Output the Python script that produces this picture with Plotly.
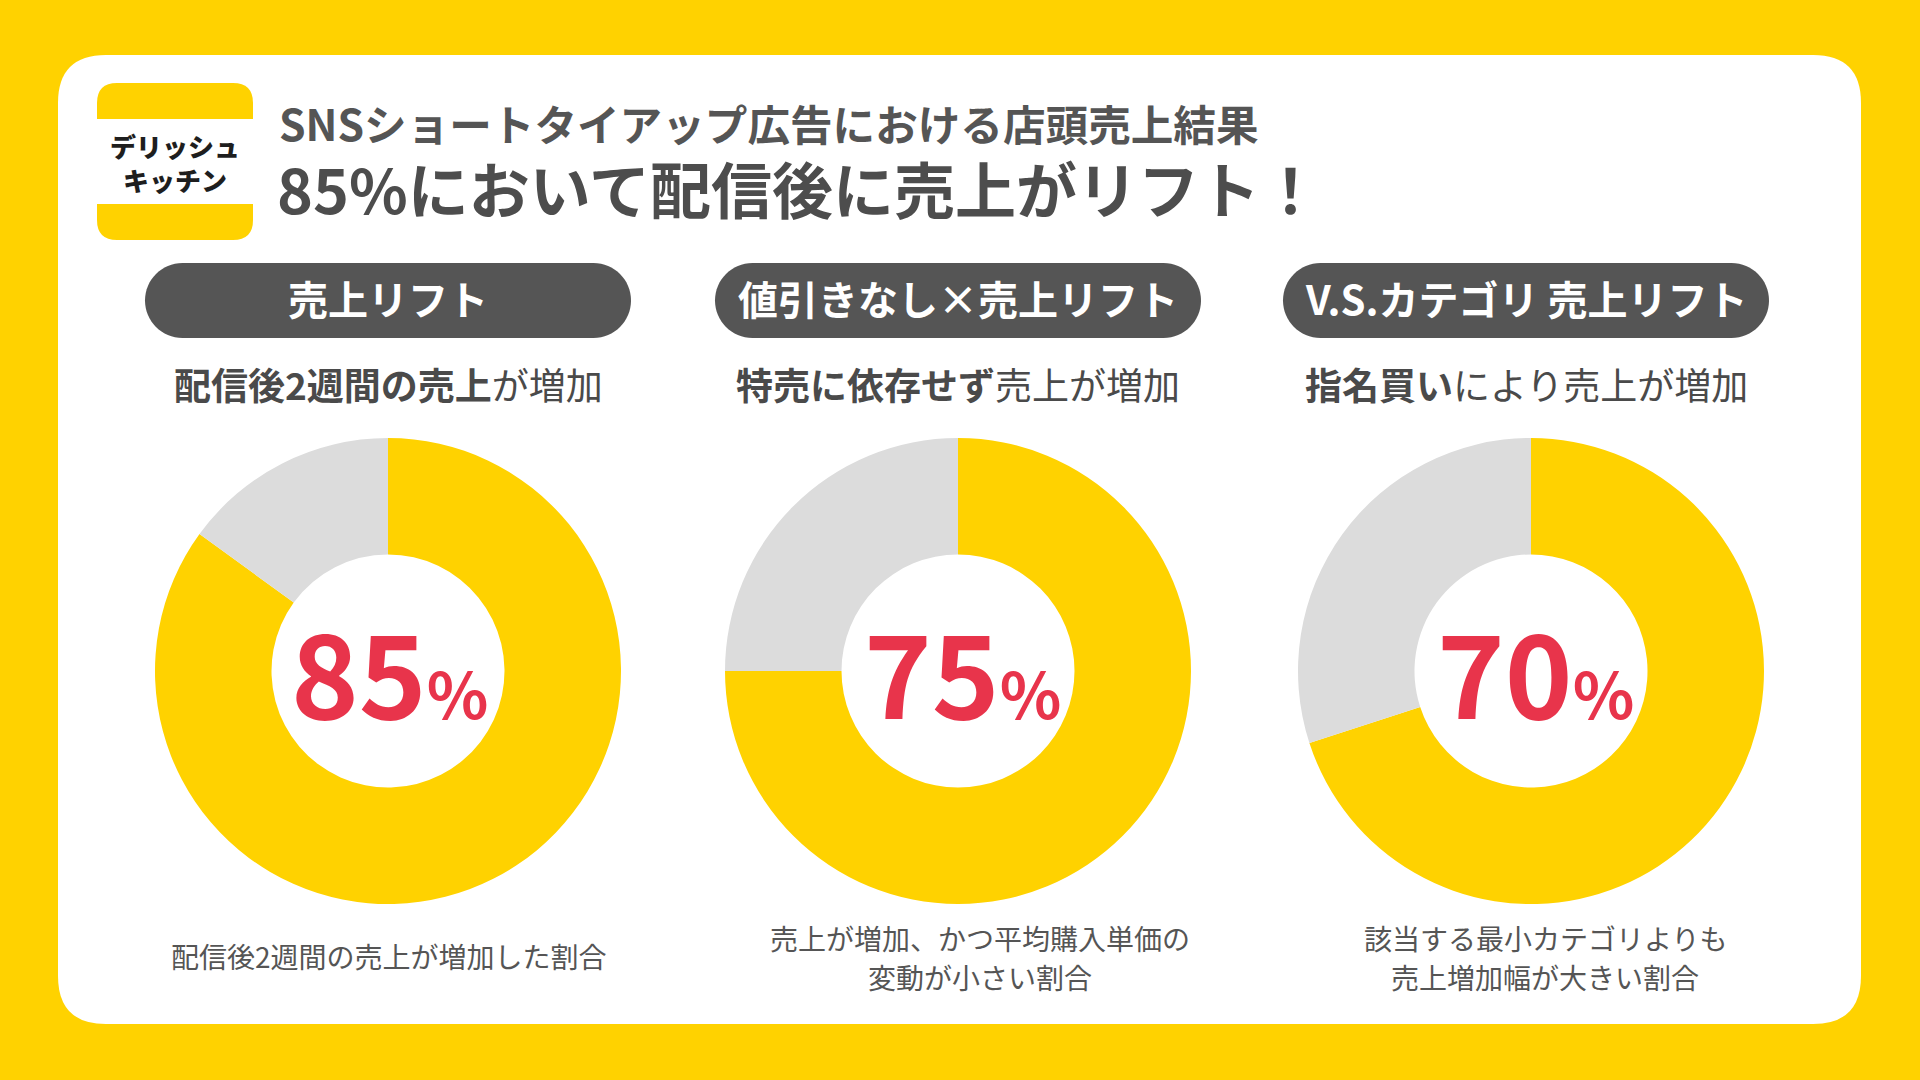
import plotly.graph_objects as go

panel_titles = ["売上リフト", "値引きなし×売上リフト", "V.S.カテゴリ 売上リフト"]
lift_pct = [85, 75, 70]
sub_bold = ["配信後2週間の売上", "特売に依存せず", "指名買い"]
sub_rest = ["が増加", "売上が増加", "により売上が増加"]
captions = [["配信後2週間の売上が増加した割合"],
            ["売上が増加、かつ平均購入単価の", "変動が小さい割合"],
            ["該当する最小カテゴリよりも", "売上増加幅が大きい割合"]]

W, H = 1920, 1080
YELLOW = "#FFD200"
GREY = "#DCDCDC"
DARK = "#555555"
RED = "#E8344B"
FONT = "Noto Sans CJK JP"


def px(x):
    return x / W


def py(y):
    return 1 - y / H


def round_rect(x0, y0, x1, y1, r):
    # rounded rectangle as svg path in paper coords (pixel input, y down)
    p = [
        f"M{px(x0 + r)},{py(y0)}",
        f"L{px(x1 - r)},{py(y0)}",
        f"Q{px(x1)},{py(y0)} {px(x1)},{py(y0 + r)}",
        f"L{px(x1)},{py(y1 - r)}",
        f"Q{px(x1)},{py(y1)} {px(x1 - r)},{py(y1)}",
        f"L{px(x0 + r)},{py(y1)}",
        f"Q{px(x0)},{py(y1)} {px(x0)},{py(y1 - r)}",
        f"L{px(x0)},{py(y0 + r)}",
        f"Q{px(x0)},{py(y0)} {px(x0 + r)},{py(y0)}",
        "Z",
    ]
    return " ".join(p)


def pill(x0, y0, x1, y1):
    r = (y1 - y0) / 2
    k = 0.5523 * r
    p = [
        f"M{px(x0 + r)},{py(y0)}",
        f"L{px(x1 - r)},{py(y0)}",
        f"C{px(x1 - r + k)},{py(y0)} {px(x1)},{py(y0 + r - k)} {px(x1)},{py(y0 + r)}",
        f"C{px(x1)},{py(y0 + r + k)} {px(x1 - r + k)},{py(y1)} {px(x1 - r)},{py(y1)}",
        f"L{px(x0 + r)},{py(y1)}",
        f"C{px(x0 + r - k)},{py(y1)} {px(x0)},{py(y0 + r + k)} {px(x0)},{py(y0 + r)}",
        f"C{px(x0)},{py(y0 + r - k)} {px(x0 + r - k)},{py(y0)} {px(x0 + r)},{py(y0)}",
        "Z",
    ]
    return " ".join(p)


# horizontal centres of the three panels (pixels)
donut_x = [388, 958, 1531]
pill_x = [388, 958, 1526]
caption_x = [389, 980, 1545]
number_x = [389, 962, 1535]
cy = 671
R = 233

fig = go.Figure()
for i, v in enumerate(lift_pct):
    cx = donut_x[i]
    fig.add_trace(go.Pie(
        values=[v, 100 - v],
        labels=["リフト", "その他"],
        sort=False,
        direction="clockwise",
        rotation=0,
        hole=0.5,
        marker=dict(colors=[YELLOW, GREY], line=dict(width=0)),
        textinfo="none",
        hoverinfo="skip",
        showlegend=False,
        domain=dict(x=[px(cx - R), px(cx + R)], y=[py(cy + R), py(cy - R)]),
    ))

shapes = [
    dict(type="path", path=round_rect(58, 55, 1861, 1024, 48),
         xref="paper", yref="paper", fillcolor="white", line=dict(width=0), layer="below"),
    # logo
    dict(type="path", path=round_rect(97, 83, 253, 240, 20),
         xref="paper", yref="paper", fillcolor=YELLOW, line=dict(width=0), layer="below"),
    dict(type="rect", x0=px(97), x1=px(253), y0=py(204), y1=py(119),
         xref="paper", yref="paper", fillcolor="white", line=dict(width=0), layer="below"),
]

ann = [
    dict(x=px(175), y=py(162), text="デリッシュ<br>キッチン",
         font=dict(size=26, color="#1E1E1E", weight=900)),
    dict(x=px(277), y=py(122), xanchor="left", height=48,
         text="<b>SNSショートタイアップ広告における店頭売上結果</b>",
         font=dict(size=42.6, color=DARK)),
    dict(x=px(275), y=py(187), xanchor="left", height=68,
         text="<b>85%において配信後に売上がリフト！</b>",
         font=dict(size=61, color="#4D4D4D")),
]

for i in range(3):
    cx = pill_x[i]
    shapes.append(dict(type="path", path=pill(cx - 243, 263, cx + 243, 338),
                       xref="paper", yref="paper", fillcolor=DARK,
                       line=dict(width=0), layer="below"))
    ann.append(dict(x=px(cx), y=py(298), text=f"<b>{panel_titles[i]}</b>",
                    font=dict(size=40, color="white")))
    ann.append(dict(x=px(cx), y=py(384), text=f"<b>{sub_bold[i]}</b>{sub_rest[i]}",
                    font=dict(size=37, color="#4A4A4A")))
    ann.append(dict(x=px(number_x[i]), y=py(669),
                    text=f"<b>{lift_pct[i]}<span style='font-size:64px'>%</span></b>",
                    font=dict(size=115, color=RED)))
    lines = captions[i]
    ys = [956] if len(lines) == 1 else [938, 977]
    for t, yy in zip(lines, ys):
        ann.append(dict(x=px(caption_x[i]), y=py(yy), text=t,
                        font=dict(size=28, color=DARK)))

for a in ann:
    a.setdefault("xanchor", "center")
    a.setdefault("yanchor", "middle")
    a["xref"] = "paper"
    a["yref"] = "paper"
    a["showarrow"] = False
    a["font"]["family"] = FONT

fig.update_layout(
    width=W, height=H,
    margin=dict(l=0, r=0, t=0, b=0),
    paper_bgcolor=YELLOW,
    plot_bgcolor=YELLOW,
    shapes=shapes,
    annotations=ann,
    showlegend=False,
)
fig.write_html("out.html", config={"displayModeBar": False},
               post_script="document.body.style.margin='0';")
